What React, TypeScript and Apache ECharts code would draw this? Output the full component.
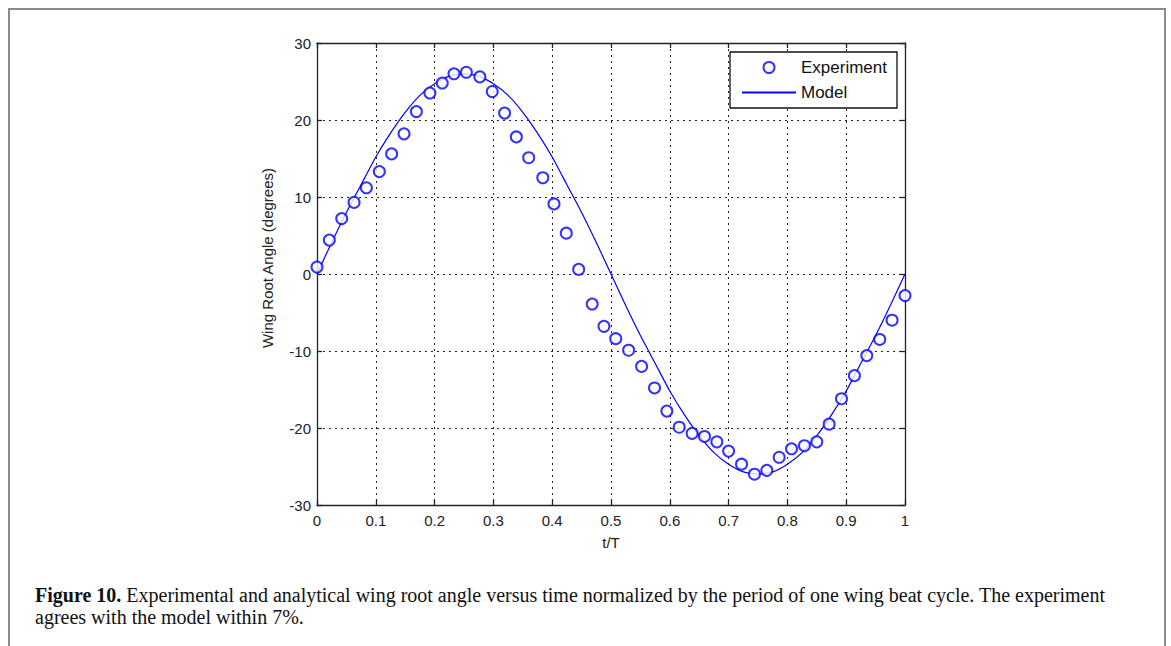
import React, { useEffect, useRef } from "react";
import * as echarts from "echarts";

const xTicks = [0, 0.1, 0.2, 0.3, 0.4, 0.5, 0.6, 0.7, 0.8, 0.9, 1];
const yTicks = [-30, -20, -10, 0, 10, 20, 30];

const expT = [
  0.0, 0.021, 0.042, 0.063, 0.084, 0.106, 0.127, 0.148, 0.169, 0.192, 0.213, 0.233,
  0.254, 0.277, 0.298, 0.319, 0.339, 0.36, 0.384, 0.403, 0.424, 0.445, 0.468, 0.488,
  0.508, 0.53, 0.552, 0.574, 0.595, 0.616, 0.638, 0.659, 0.68, 0.7, 0.722, 0.744,
  0.765, 0.786, 0.807, 0.829, 0.85, 0.871, 0.892, 0.914, 0.935, 0.957, 0.978, 1.0,
];
const expAngle = [
  0.9, 4.4, 7.2, 9.3, 11.2, 13.3, 15.6, 18.2, 21.1, 23.5, 24.8, 26.0,
  26.2, 25.6, 23.7, 20.9, 17.8, 15.1, 12.5, 9.1, 5.3, 0.6, -3.9, -6.8,
  -8.4, -9.9, -12.0, -14.8, -17.8, -19.9, -20.7, -21.1, -21.8, -23.0, -24.7, -26.0,
  -25.5, -23.8, -22.7, -22.3, -21.8, -19.5, -16.2, -13.2, -10.6, -8.5, -6.0, -2.8,
];

const modelT = [
  0, 0.025, 0.05, 0.075, 0.1, 0.125, 0.15, 0.175, 0.2, 0.225, 0.25, 0.275, 0.3, 0.325,
  0.35, 0.375, 0.4, 0.425, 0.45, 0.475, 0.5, 0.525, 0.55, 0.575, 0.6, 0.625, 0.65,
  0.675, 0.7, 0.725, 0.75, 0.775, 0.8, 0.825, 0.85, 0.875, 0.9, 0.925, 0.95, 0.975, 1,
];
const modelAngle = [
  0, 4.1, 8.0, 11.6, 15.2, 18.3, 21.0, 23.2, 24.7, 25.7, 26.0, 25.7, 24.7, 23.2,
  21.0, 18.3, 15.2, 11.6, 8.0, 4.1, 0, -4.1, -8.0, -11.6, -15.2, -18.3, -21.0,
  -23.2, -24.7, -25.7, -26.0, -25.7, -24.7, -23.2, -21.0, -18.3, -15.2, -11.6, -8.0, -4.1, 0,
];

const captionBold = "Figure 10.";
const captionLine1 =
  " Experimental and analytical wing root angle versus time normalized by the period of one wing beat cycle. The experiment";
const captionLine2 = "agrees with the model within 7%.";

export default function App() {
  const ref = useRef<HTMLDivElement>(null);

  useEffect(() => {
    if (!ref.current) return;
    const chart = echarts.init(ref.current, undefined, { renderer: "svg" });
    const font = "Liberation Sans, Arial, sans-serif";
    const blue = "#0000ff";
    const gridLine = { show: true, lineStyle: { color: "#222", width: 1, type: [2, 4] as any } };
    const axisLine = { show: true, onZero: false, lineStyle: { color: "#222", width: 1.3 } };
    const tick = { show: true, inside: true, length: 5, lineStyle: { color: "#222", width: 1.3 } };
    const xFmt = (v: number) => String(Math.round(v * 10) / 10);

    chart.setOption({
      animation: false,
      backgroundColor: "#fff",
      grid: { left: 317, right: 266, top: 43, bottom: 141, containLabel: false },
      legend: {
        left: 730,
        top: 52,
        orient: "vertical",
        backgroundColor: "#fff",
        borderColor: "#111",
        borderWidth: 1.3,
        borderRadius: 0,
        padding: [7, 10, 7, 11],
        itemGap: 8,
        itemWidth: 54,
        itemHeight: 11,
        textStyle: { fontFamily: font, fontSize: 17, color: "#111" },
        data: [
          { name: "Experiment", icon: "emptyCircle" },
          { name: "Model", itemStyle: { opacity: 0 } },
        ],
      },
      xAxis: [
        {
          type: "value",
          min: xTicks[0],
          max: xTicks[xTicks.length - 1],
          interval: 0.1,
          name: "t/T",
          nameLocation: "middle",
          nameGap: 30,
          nameTextStyle: { fontFamily: font, fontSize: 15, color: "#222" },
          axisLine,
          axisTick: tick,
          axisLabel: { fontFamily: font, fontSize: 15, color: "#222", margin: 8, formatter: xFmt },
          splitLine: gridLine,
        },
        {
          type: "value",
          position: "top",
          min: xTicks[0],
          max: xTicks[xTicks.length - 1],
          interval: 0.1,
          axisLine,
          axisTick: tick,
          axisLabel: { show: false },
          splitLine: { show: false },
        },
      ],
      yAxis: [
        {
          type: "value",
          min: yTicks[0],
          max: yTicks[yTicks.length - 1],
          interval: 10,
          name: "Wing Root Angle (degrees)",
          nameLocation: "middle",
          nameGap: 42,
          nameTextStyle: { fontFamily: font, fontSize: 15, color: "#222", padding: [0, 0, 0, 32] },
          axisLine,
          axisTick: tick,
          axisLabel: { fontFamily: font, fontSize: 15, color: "#222", margin: 6 },
          splitLine: gridLine,
        },
        {
          type: "value",
          position: "right",
          min: yTicks[0],
          max: yTicks[yTicks.length - 1],
          interval: 10,
          axisLine,
          axisTick: tick,
          axisLabel: { show: false },
          splitLine: { show: false },
        },
      ],
      series: [
        {
          name: "Model",
          type: "line",
          xAxisIndex: 0,
          yAxisIndex: 0,
          data: modelT.map((t, i) => [t, modelAngle[i]]),
          symbol: "none",
          smooth: 0.2,
          lineStyle: { color: blue, width: 1.2 },
          itemStyle: { color: blue },
          z: 2,
        },
        {
          name: "Experiment",
          type: "scatter",
          xAxisIndex: 0,
          yAxisIndex: 0,
          data: expT.map((t, i) => [t, expAngle[i]]),
          symbol: "emptyCircle",
          symbolSize: 11,
          itemStyle: { color: blue, borderColor: blue, borderWidth: 1.6 },
          z: 3,
        },
      ],
      graphic: [
        {
          type: "rect",
          shape: { x: 9, y: 9, width: 1156, height: 700 },
          style: { fill: "none", stroke: "#8a8a8a", lineWidth: 2 },
          silent: true,
          z: -1,
        },
        {
          type: "text",
          left: 35,
          top: 584,
          style: {
            text: "{b|" + captionBold + "}" + captionLine1 + "\n" + captionLine2,
            fontFamily: "Liberation Serif, serif",
            fontSize: 20,
            lineHeight: 22,
            fill: "#111",
            rich: {
              b: { fontFamily: "Liberation Serif, serif", fontSize: 20, fontWeight: "bold", fill: "#111", lineHeight: 22 },
            },
          },
        },
      ],
    });
    return () => chart.dispose();
  }, []);

  return (
    <div
      ref={ref}
      style={{ position: "fixed", left: 0, top: 0, width: 1171, height: 646, background: "#fff" }}
    />
  );
}
